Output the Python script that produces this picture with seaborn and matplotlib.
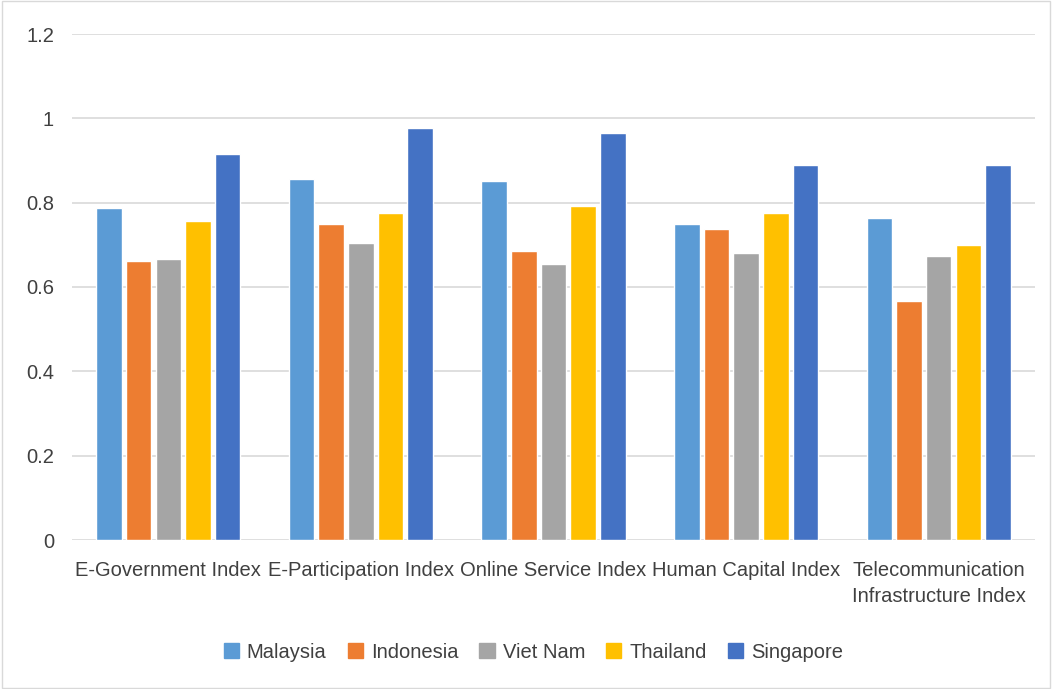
import matplotlib
matplotlib.use("Agg")
import matplotlib.pyplot as plt
import seaborn as sns
import pandas as pd
from matplotlib.patches import Rectangle

categories = ["E-Government Index", "E-Participation Index", "Online Service Index",
              "Human Capital Index", "Telecommunication\nInfrastructure Index"]
countries = ["Malaysia", "Indonesia", "Viet Nam", "Thailand", "Singapore"]
malaysia = [0.787, 0.856, 0.851, 0.749, 0.764]
indonesia = [0.662, 0.749, 0.685, 0.737, 0.567]
vietnam = [0.666, 0.704, 0.654, 0.680, 0.673]
thailand = [0.756, 0.775, 0.792, 0.775, 0.699]
singapore = [0.915, 0.977, 0.965, 0.889, 0.889]
colors = ["#5B9BD5", "#ED7D31", "#A5A5A5", "#FFC000", "#4472C4"]

series = [malaysia, indonesia, vietnam, thailand, singapore]
rows = []
for c, vals in zip(countries, series):
    for cat, v in zip(categories, vals):
        rows.append({"Index": cat, "Country": c, "Value": v})
df = pd.DataFrame(rows)

sns.set_theme(style="white")
plt.rcParams["font.family"] = ["Liberation Sans", "DejaVu Sans"]

fig = plt.figure(figsize=(10.52, 6.89), dpi=100)
ax = fig.add_axes([72/1052, 1 - 540/689, (1035-72)/1052, (540-34)/689])

sns.barplot(data=df, x="Index", y="Value", hue="Country", hue_order=countries,
            palette=colors, saturation=1, width=0.77, gap=0.14, ax=ax, legend=False,
            errorbar=None, zorder=3)

ax.set_ylim(0, 1.2)
ax.set_yticks([0, 0.2, 0.4, 0.6, 0.8, 1.0, 1.2])
ax.set_yticklabels(["0", "0.2", "0.4", "0.6", "0.8", "1", "1.2"])
ax.yaxis.grid(True, color="#D9D9D9", linewidth=1.2, zorder=0)
ax.set_axisbelow(True)
for s in ["top", "right", "left", "bottom"]:
    ax.spines[s].set_visible(False)
ax.set_xlabel("")
ax.set_ylabel("")
ax.tick_params(axis="y", labelsize=14.5, colors="#404040", pad=13, length=0)
ax.tick_params(axis="x", labelsize=14.5, colors="#404040", pad=15, length=0)
for lab in ax.get_xticklabels():
    lab.set_linespacing(1.45)
ax.set_xlim(-0.5, 4.5)

handles = [Rectangle((0, 0), 1, 1, color=c) for c in colors]
fig.legend(handles, countries, loc="center", bbox_to_anchor=(0.507, 1 - 652/689),
           ncol=5, frameon=False, fontsize=14.5, handlelength=0.75, handleheight=0.75,
           columnspacing=1.05, handletextpad=0.4, labelcolor="#404040")

fig.patches.append(Rectangle((0.002, 0.002), 0.996, 0.996, transform=fig.transFigure,
                             fill=False, edgecolor="#D9D9D9", linewidth=1))

fig.savefig("out.png", dpi=100)
